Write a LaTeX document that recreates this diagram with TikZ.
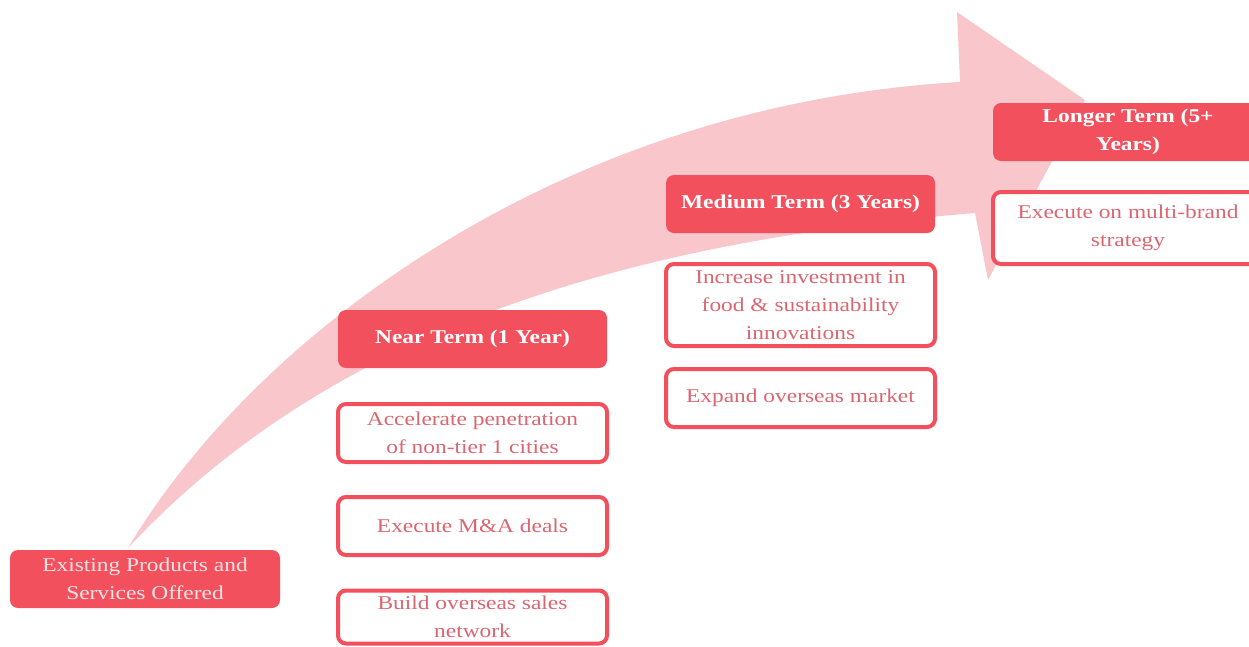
\documentclass[tikz,border=0pt]{standalone}
\usepackage{fontspec}
\setmainfont{Liberation Serif}[FakeStretch=1.2]
\definecolor{tred}{HTML}{F2505D}
\definecolor{tpink}{HTML}{F9C6CC}
\definecolor{ttext}{HTML}{DA6671}
\definecolor{tlite}{HTML}{FCE4E6}
\tikzset{
  head/.style={fill=tred, rounded corners=8pt, text=white, align=center, inner sep=0pt,
    font=\bfseries\fontsize{19.5}{28}\selectfont},
  base/.style={fill=tred, rounded corners=8pt, text=tlite, align=center, inner sep=0pt,
    font=\fontsize{19.5}{28}\selectfont},
  item/.style={draw=tred, line width=4pt, fill=white, rounded corners=8pt, text=ttext,
    align=center, inner sep=0pt, font=\fontsize{19.5}{28}\selectfont}
}
\begin{document}
\begin{tikzpicture}[x=1pt,y=-1pt]
\useasboundingbox (0,0) rectangle (1249,646);
\fill[white] (0,0) rectangle (1249,646);
% big curved arrow
\fill[tpink] (128,548) .. controls (255,335) and (560,105) .. (960,82)
  -- (957,12) -- (1085,100) -- (988,280) -- (975,213)
  .. controls (650,240) and (340,320) .. (128,548) -- cycle;
% nodes
\node[base, minimum width=270pt, minimum height=58pt] (exist) at (145,579)
  {Existing Products and\\Services Offered};
\node[head, minimum width=269pt, minimum height=58pt] (near) at (472.5,339)
  {Near Term (1 Year)};
\node[item, minimum width=269pt, minimum height=58pt] (acc) at (472.5,433)
  {Accelerate penetration\\of non-tier 1 cities};
\node[item, minimum width=269pt, minimum height=58pt] (mna) at (472.5,526)
  {Execute M\&A deals};
\node[item, minimum width=269pt, minimum height=53pt] (build) at (472.5,617)
  {Build overseas sales\\network};
\node[head, minimum width=269pt, minimum height=58pt] (medium) at (800.5,204)
  {Medium Term (3 Years)};
\node[item, minimum width=269pt, minimum height=82pt] (incr) at (800.5,305)
  {Increase investment in\\food \& sustainability\\innovations};
\node[item, minimum width=269pt, minimum height=58pt] (expand) at (800.5,398)
  {Expand overseas market};
\node[head, minimum width=270pt, minimum height=58pt] (longer) at (1128,132)
  {Longer Term (5+\\Years)};
\node[item, minimum width=270pt, minimum height=72pt] (multi) at (1128,228)
  {Execute on multi-brand\\strategy};
\end{tikzpicture}
\end{document}
